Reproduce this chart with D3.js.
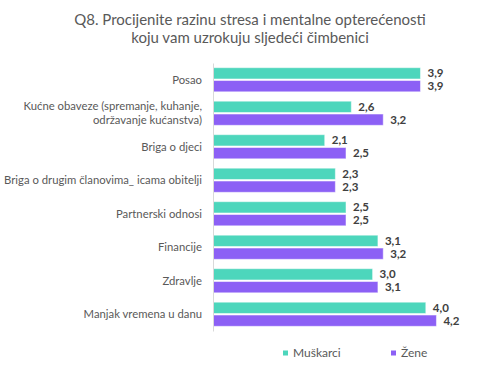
<!DOCTYPE html>
<html>
<head>
<meta charset="utf-8">
<script src="https://cdn.jsdelivr.net/npm/d3@7"></script>
<style>
  body { margin: 0; background: #fff; }
  text { font-family: Lato, "Open Sans", sans-serif; }
</style>
</head>
<body>
<script>
const categories = [
    "Posao",
    "Kućne obaveze (spremanje, kuhanje,|održavanje kućanstva)",
    "Briga o djeci",
    "Briga o drugim članovima_ icama obitelji",
    "Partnerski odnosi",
    "Financije",
    "Zdravlje",
    "Manjak vremena u danu"
];
const seriesNames = ["Muškarci", "Žene"];
const men = [3.9, 2.6, 2.1, 2.3, 2.5, 3.1, 3.0, 4.0];
const women = [3.9, 3.2, 2.5, 2.3, 2.5, 3.2, 3.1, 4.2];
const titleLines = ["Q8. Procijenite razinu stresa i mentalne opterećenosti", "koju vam uzrokuju sljedeći čimbenici"];

const colors = ["#4dd6bc", "#8c60f5"];
const width = 482, height = 370;

const svg = d3.select("body").append("svg")
    .attr("width", width)
    .attr("height", height);

// title
svg.append("g").selectAll("text")
    .data(titleLines)
    .enter().append("text")
    .attr("x", 250)
    .attr("y", (d, i) => 25 + i * 18)
    .attr("text-anchor", "middle")
    .attr("fill", "#595959")
    .style("font-size", "15px")
    .text(d => d);

const rows = categories.map((c, i) => ({ cat: c, values: [men[i], women[i]] }));

const y = d3.scaleBand()
    .domain(categories)
    .range([63, 331])
    .paddingInner(0.28)
    .paddingOuter(0.14);

const ySeries = d3.scaleBand()
    .domain([0, 1])
    .range([0, y.bandwidth()])
    .paddingInner(0.12);

const x = d3.scaleLinear()
    .domain([0, 4])
    .range([213, 213 + 4 * 53.2]);

const groups = svg.append("g").selectAll("g")
    .data(rows)
    .enter().append("g")
    .attr("transform", d => `translate(0,${y(d.cat)})`);

groups.selectAll("rect")
    .data(d => d.values)
    .enter().append("rect")
    .attr("x", x(0))
    .attr("y", (d, i) => ySeries(i))
    .attr("width", d => x(d) - x(0))
    .attr("height", ySeries.bandwidth())
    .attr("fill", (d, i) => colors[i])
    .attr("stroke", "#ffffff")
    .attr("stroke-opacity", 0.5)
    .attr("stroke-width", 1);

groups.selectAll("text.val")
    .data(d => d.values)
    .enter().append("text")
    .attr("class", "val")
    .attr("x", d => x(d) + 7)
    .attr("y", (d, i) => ySeries(i) + ySeries.bandwidth() / 2)
    .attr("dy", "0.36em")
    .attr("fill", "#404040")
    .style("font-size", "11.5px")
    .style("font-weight", "bold")
    .text(d => d3.format(".1f")(d).replace(".", ","));

// category axis
const yAxis = d3.axisLeft(y).tickSize(0).tickPadding(11).tickFormat("");
const axisG = svg.append("g")
    .attr("transform", `translate(${x(0)},0)`)
    .call(yAxis);
axisG.select(".domain").attr("stroke", "#d9d9d9");

axisG.selectAll(".tick").each(function(d) {
    const lines = d.split("|");
    const t = d3.select(this).append("text")
        .attr("x", -11)
        .attr("text-anchor", "end")
        .attr("fill", "#595959")
        .style("font-size", "11.3px");
    lines.forEach((l, i) => {
        t.append("tspan")
            .attr("x", -11)
            .attr("dy", i === 0 ? `${0.35 - (lines.length - 1) * 0.6}em` : "1.2em")
            .text(l);
    });
});

// legend
const legend = svg.append("g").selectAll("g")
    .data(seriesNames)
    .enter().append("g")
    .attr("transform", (d, i) => `translate(${[283, 391][i]},353)`);

legend.append("rect")
    .attr("x", 0)
    .attr("y", -2.5)
    .attr("width", 5)
    .attr("height", 5)
    .attr("fill", (d, i) => colors[i]);

legend.append("text")
    .attr("x", 10)
    .attr("dy", "0.36em")
    .attr("fill", "#595959")
    .style("font-size", "12px")
    .text(d => d);
</script>
</body>
</html>
